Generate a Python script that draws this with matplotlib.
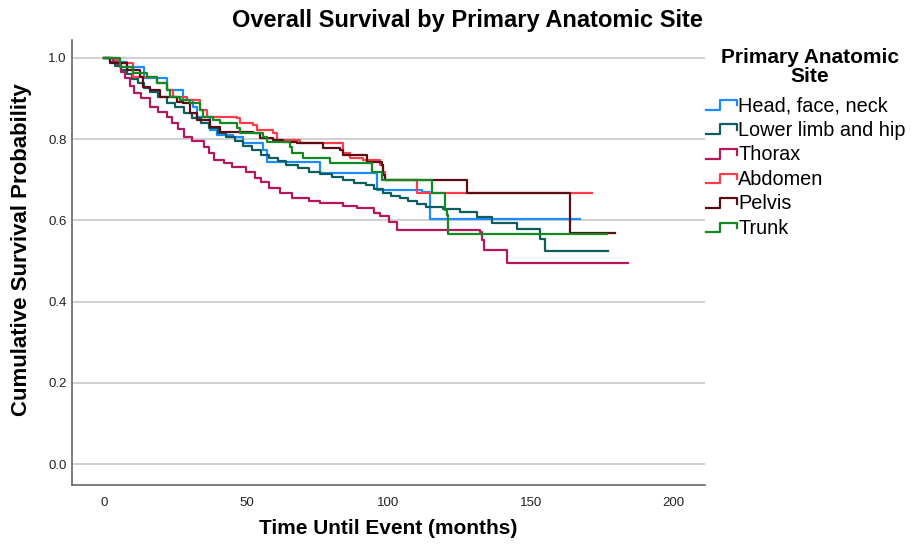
import matplotlib
matplotlib.use("Agg")
import matplotlib.pyplot as plt
from matplotlib.legend_handler import HandlerBase
from matplotlib.lines import Line2D

plt.rcParams['font.family'] = ['Liberation Sans', 'DejaVu Sans']

# ---- data (months, survival) ----
sites = ["Head, face, neck", "Lower limb and hip", "Thorax", "Abdomen", "Pelvis", "Trunk"]
colors = ["#1a8cff", "#0e5c5c", "#b5175e", "#ff3c4c", "#5c0d14", "#128a24"]

head_t = [0, 5, 8, 14, 22, 27.8, 31.3, 32.7, 37.3, 39.7, 45.3, 48.9, 55.9, 57.3, 75.9, 96, 111.8, 114.6, 167.3]
head_s = [1.0, 0.99, 0.978, 0.95, 0.921, 0.897, 0.879, 0.855, 0.823, 0.81, 0.805, 0.791, 0.773, 0.744, 0.717, 0.675, 0.67, 0.604, 0.604]

limb_t = [0, 2, 4, 6, 8, 10, 12, 14, 16, 19, 22, 25, 28, 31, 34, 37, 40, 43, 46, 49, 52, 55, 58, 61,
          64, 68, 72, 76, 80, 84, 88, 92, 95, 98, 101, 104, 107, 110, 113, 119, 125, 131, 136.4, 145.2,
          153.3, 155, 177]
limb_s = [1.0, 0.99, 0.98, 0.97, 0.96, 0.948, 0.938, 0.926, 0.915, 0.903, 0.89, 0.878, 0.865, 0.852,
          0.84, 0.828, 0.816, 0.805, 0.795, 0.782, 0.772, 0.762, 0.753, 0.745, 0.737, 0.728, 0.72, 0.713,
          0.706, 0.699, 0.693, 0.686, 0.678, 0.668, 0.661, 0.655, 0.648, 0.64, 0.633, 0.629, 0.621, 0.608,
          0.594, 0.579, 0.554, 0.525, 0.525]

thorax_t = [0, 3, 4.5, 6, 7.5, 9, 10.5, 13, 16, 19, 22, 24, 26, 28, 31, 35, 37, 38.5, 42, 45, 50, 53,
            55, 58, 62, 66, 72, 76, 84, 89, 95, 97, 100, 103, 132, 133, 133.5, 141.6, 184]
thorax_s = [1.0, 0.995, 0.985, 0.965, 0.95, 0.93, 0.914, 0.9, 0.879, 0.866, 0.855, 0.84, 0.825, 0.805,
            0.795, 0.781, 0.765, 0.749, 0.74, 0.731, 0.719, 0.705, 0.695, 0.68, 0.668, 0.655, 0.648,
            0.643, 0.636, 0.63, 0.618, 0.61, 0.595, 0.576, 0.571, 0.552, 0.527, 0.495, 0.495]

abdomen_t = [0, 4, 5.6, 10.2, 18.6, 22.1, 24.3, 29.2, 33.7, 36.2, 46.7, 47.8, 52.4, 53.8, 59.4, 60.8,
             68.9, 84, 86.5, 91, 97, 98, 98.8, 110, 171.5]
abdomen_s = [1.0, 0.995, 0.988, 0.953, 0.938, 0.921, 0.903, 0.897, 0.872, 0.855, 0.852, 0.84, 0.835,
             0.823, 0.815, 0.798, 0.791, 0.766, 0.754, 0.749, 0.736, 0.719, 0.7, 0.667, 0.667]

pelvis_t = [0, 2.1, 8.1, 12.7, 13.7, 16.2, 19.7, 25.7, 27.8, 30.2, 32.7, 37.3, 40.8, 52.4, 54.8, 59.4,
            62.9, 67.8, 77, 83, 84, 92.4, 97.7, 98, 98.8, 127.6, 163.8, 179.6]
pelvis_s = [1.0, 0.988, 0.97, 0.953, 0.929, 0.921, 0.903, 0.891, 0.888, 0.865, 0.847, 0.83, 0.818,
            0.815, 0.803, 0.798, 0.793, 0.791, 0.778, 0.773, 0.761, 0.744, 0.736, 0.712, 0.7, 0.667,
            0.569, 0.569]

trunk_t = [0, 5.6, 10.2, 15.1, 18.6, 22.1, 23.2, 26.7, 30.2, 33.7, 34.8, 38.3, 40.8, 46.7, 47.8, 55.9,
           57.3, 65.4, 66.1, 69.9, 79.4, 94.2, 97.7, 115.3, 119.9, 120.6, 121, 176.8]
trunk_s = [1.0, 0.978, 0.963, 0.953, 0.938, 0.921, 0.904, 0.897, 0.889, 0.872, 0.855, 0.847, 0.84,
           0.828, 0.815, 0.805, 0.793, 0.781, 0.766, 0.754, 0.741, 0.719, 0.7, 0.667, 0.626, 0.613,
           0.567, 0.567]

curves = [(head_t, head_s), (limb_t, limb_s), (thorax_t, thorax_s),
          (abdomen_t, abdomen_s), (pelvis_t, pelvis_s), (trunk_t, trunk_s)]

x_ticks = [0, 50, 100, 150, 200]
y_ticks = [0.0, 0.2, 0.4, 0.6, 0.8, 1.0]


class StepHandler(HandlerBase):
    # little step-shaped legend icon
    def create_artists(self, legend, orig_handle, xdescent, ydescent, width, height, fontsize, trans):
        x0 = -xdescent
        y0 = -ydescent
        xs = [x0, x0 + 0.45 * width, x0 + 0.45 * width, x0 + width, x0 + width]
        ys = [y0 + 0.1 * height, y0 + 0.1 * height, y0 + 0.8 * height, y0 + 0.8 * height, y0 + 0.4 * height]
        line = Line2D(xs, ys, color=orig_handle.get_color(), lw=orig_handle.get_linewidth(), transform=trans)
        return [line]


fig = plt.figure(figsize=(9.21, 5.44), dpi=100)
ax = fig.add_axes([72 / 921, 1 - 485 / 544, (705 - 72) / 921, (485 - 40) / 544])

handles = []
for (t, s), name, c in zip(curves, sites, colors):
    h, = ax.step(t, s, where="post", color=c, lw=1.6, label=name)
    handles.append(h)

ax.set_xlim(-11.25, 211.2)
ax.set_ylim(-0.0517, 1.044)
ax.set_xticks(x_ticks)
ax.set_yticks(y_ticks)
ax.set_yticklabels([f"{v:.1f}" for v in y_ticks])
ax.yaxis.grid(True, color="#c8c8c8", lw=1.2)
ax.set_axisbelow(True)
ax.tick_params(length=0, labelsize=9.5, colors="#222222")
ax.tick_params(axis="y", pad=4)
ax.tick_params(axis="x", pad=9)
for side in ["top", "right"]:
    ax.spines[side].set_visible(False)
for side in ["left", "bottom"]:
    ax.spines[side].set_color("#666666")
    ax.spines[side].set_linewidth(1.2)

ax.set_xlabel("Time Until Event (months)", fontsize=15, fontweight="bold")
ax.xaxis.set_label_coords(0.5, -(528 - 485) / 445, transform=ax.transAxes)
ax.xaxis.label.set_va("center")
ax.set_ylabel("Cumulative Survival Probability", fontsize=16, fontweight="bold")
ax.yaxis.set_label_coords(-(72 - 22) / 633, (485 - 250) / 445)
ax.yaxis.label.set_va("center")
fig.suptitle("Overall Survival by Primary Anatomic Site", x=0.507, y=1 - 20 / 544, va="center",
             fontsize=17, fontweight="bold")

# legend title as separate text so the gap to the entries matches
fig.text(810 / 921, 1 - 67 / 544, "Primary Anatomic\nSite", ha="center", va="center",
         fontsize=15, fontweight="bold", linespacing=1.0, multialignment="center")
leg = fig.legend(handles=handles, labels=sites, loc="upper left", bbox_to_anchor=(706 / 921, 1 - 96 / 544),
                 frameon=False, fontsize=14.3,
                 handler_map={Line2D: StepHandler()}, handlelength=1.55, handletextpad=0.08,
                 labelspacing=0.28, borderaxespad=0, borderpad=0)

fig.savefig("out.png", dpi=100)
